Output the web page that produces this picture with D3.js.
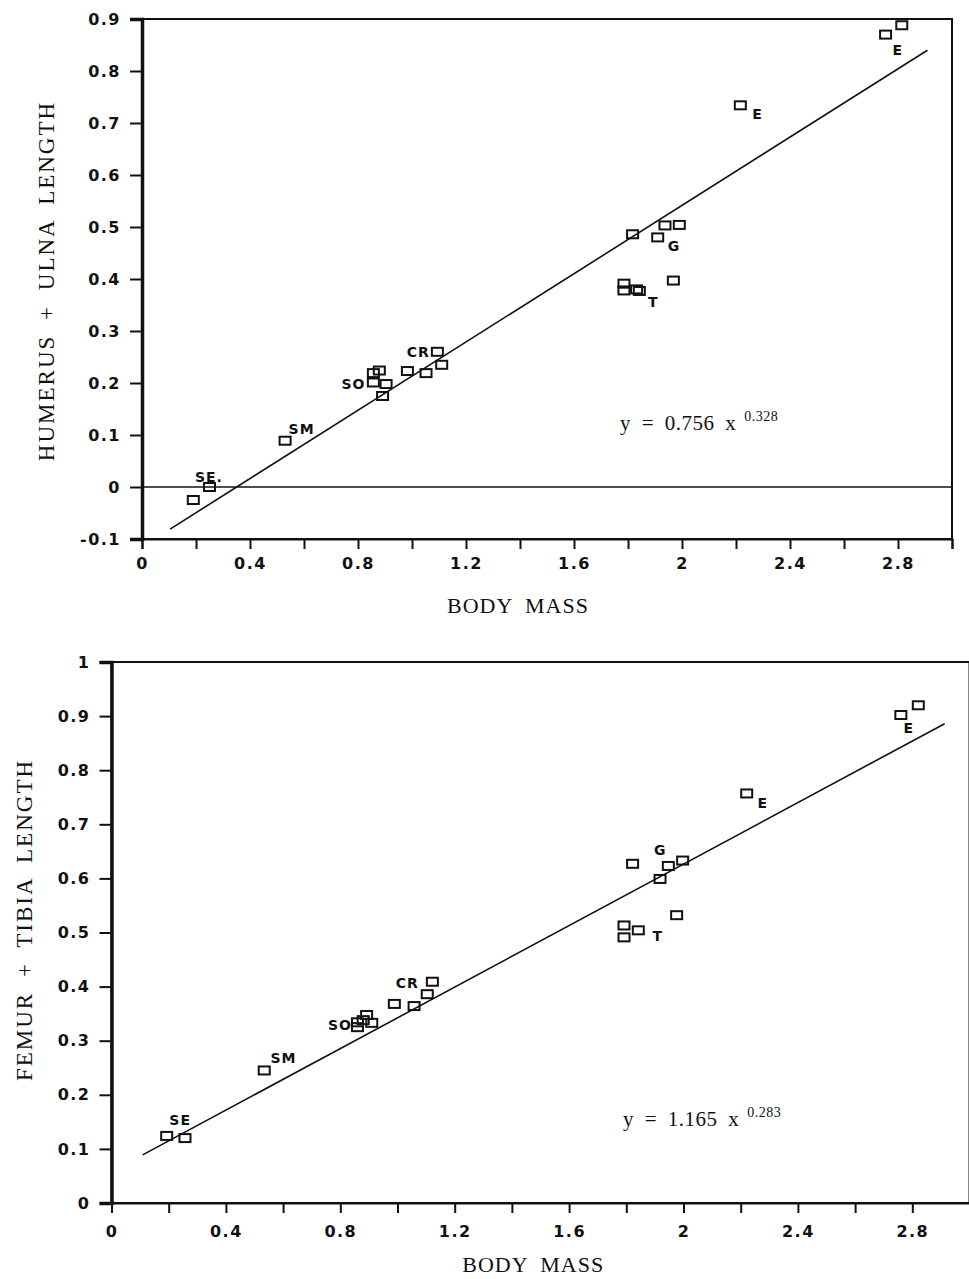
<!DOCTYPE html>
<html>
<head>
<meta charset="utf-8">
<script src="https://cdn.jsdelivr.net/npm/d3@7"></script>
<style>
  html, body { margin: 0; padding: 0; background: #fff; }
  svg { display: block; }
</style>
</head>
<body>
<svg id="chart" width="969" height="1279"></svg>
<script>
// ---------- shared x axis (log body mass) ----------
const xTickValues = [0, 0.2, 0.4, 0.6, 0.8, 1.0, 1.2, 1.4, 1.6, 1.8, 2.0, 2.2, 2.4, 2.6, 2.8, 3.0];
const xTickLabels = ["0", "", "0.4", "", "0.8", "", "1.2", "", "1.6", "", "2", "", "2.4", "", "2.8", ""];
const xTitle = "BODY MASS";

// ---------- panel 1: humerus + ulna ----------
const humerusYTicks = [-0.1, 0, 0.1, 0.2, 0.3, 0.4, 0.5, 0.6, 0.7, 0.8, 0.9];
const humerusYTickLabels = ["-0.1", "0", "0.1", "0.2", "0.3", "0.4", "0.5", "0.6", "0.7", "0.8", "0.9"];
const humerusX = [0.19, 0.25, 0.53, 0.857, 0.857, 0.879, 0.904, 0.891, 0.983, 1.052, 1.094, 1.110,
                  1.817, 1.910, 1.937, 1.990, 1.968, 1.785, 1.785, 1.832, 1.842, 2.216, 2.754, 2.814];
const humerusY = [-0.025, 0.0, 0.089, 0.219, 0.201, 0.224, 0.198, 0.175, 0.223, 0.219, 0.260, 0.235,
                  0.486, 0.480, 0.503, 0.504, 0.397, 0.391, 0.378, 0.380, 0.377, 0.734, 0.870, 0.888];
const humerusLabels = ["SE.", "SM", "SO", "CR", "G", "T", "E", "E"];
const humerusLabelX = [0.248, 0.591, 0.783, 1.023, 1.970, 1.894, 2.280, 2.799];
const humerusLabelY = [0.019, 0.1115, 0.198, 0.260, 0.463, 0.355, 0.717, 0.840];
const humerusFitX = [0.104, 2.909];
const humerusFitY = [-0.081, 0.840];
const humerusTitle = "HUMERUS + ULNA LENGTH";
const humerusEq = "y = 0.756 x";
const humerusExp = "0.328";

// ---------- panel 2: femur + tibia ----------
const femurYTicks = [0, 0.1, 0.2, 0.3, 0.4, 0.5, 0.6, 0.7, 0.8, 0.9, 1.0];
const femurYTickLabels = ["0", "0.1", "0.2", "0.3", "0.4", "0.5", "0.6", "0.7", "0.8", "0.9", "1"];
const femurX = [0.193, 0.257, 0.534, 0.860, 0.860, 0.892, 0.880, 0.910, 0.989, 1.058, 1.122, 1.104,
                1.822, 1.947, 1.918, 1.997, 1.976, 1.792, 1.792, 1.842, 2.221, 2.760, 2.821];
const femurY = [0.124, 0.120, 0.245, 0.325, 0.334, 0.3475, 0.338, 0.333, 0.368, 0.364, 0.409, 0.386,
                0.627, 0.623, 0.599, 0.633, 0.532, 0.513, 0.491, 0.504, 0.757, 0.902, 0.920];
const femurLabels = ["SE", "SM", "SO", "CR", "G", "T", "E", "E"];
const femurLabelX = [0.240, 0.601, 0.799, 1.034, 1.919, 1.910, 2.277, 2.788];
const femurLabelY = [0.154, 0.269, 0.329, 0.407, 0.652, 0.493, 0.739, 0.878];
const femurFitX = [0.109, 2.913];
const femurFitY = [0.089, 0.886];
const femurTitle = "FEMUR + TIBIA LENGTH";
const femurEq = "y = 1.165 x";
const femurExp = "0.283";

const svg = d3.select("#chart");
svg.append("rect").attr("width", 969).attr("height", 1279).attr("fill", "#fff");

const tickFont = "'DejaVu Sans', Verdana, sans-serif";
const serif = "'Liberation Serif', 'Times New Roman', serif";

function panel(cfg) {
  const x = d3.scaleLinear().domain([0, 3]).range(cfg.xr);
  const y = d3.scaleLinear().domain(cfg.yd).range(cfg.yr);
  const g = svg.append("g");

  // frame
  g.append("rect")
    .attr("x", cfg.xr[0]).attr("y", cfg.yr[1])
    .attr("width", cfg.xr[1] - cfg.xr[0]).attr("height", cfg.yr[0] - cfg.yr[1])
    .attr("fill", "none").attr("stroke", "#111").attr("stroke-width", 2);

  // y axis
  const yAxis = d3.axisLeft(y).tickValues(cfg.yTicks)
    .tickFormat((d, i) => cfg.yTickLabels[i]).tickSize(12).tickPadding(9);
  const ya = g.append("g").attr("transform", `translate(${cfg.xr[0]},0)`).call(yAxis);
  ya.select(".domain").attr("stroke", "#111").attr("stroke-width", 3.5);
  ya.selectAll(".tick line").attr("stroke", "#111").attr("stroke-width", 2);
  ya.selectAll(".tick text")
    .attr("font-family", tickFont).attr("font-weight", "900").attr("font-size", 16)
    .attr("letter-spacing", "1.5px").attr("fill", "#111");

  // x axis
  const xAxis = d3.axisBottom(x).tickValues(xTickValues)
    .tickFormat((d, i) => xTickLabels[i]).tickSize(10).tickPadding(cfg.xPad);
  const xa = g.append("g").attr("transform", `translate(0,${cfg.yr[0]})`).call(xAxis);
  xa.select(".domain").attr("stroke", "#111").attr("stroke-width", 2);
  xa.selectAll(".tick line").attr("stroke", "#111").attr("stroke-width", 2);
  xa.selectAll(".tick text")
    .attr("font-family", tickFont).attr("font-weight", "900").attr("font-size", 16)
    .attr("letter-spacing", "1.5px").attr("fill", "#111");

  // zero reference line
  if (cfg.zeroLine) {
    g.append("line")
      .attr("x1", cfg.xr[0]).attr("x2", cfg.xr[1])
      .attr("y1", y(0)).attr("y2", y(0))
      .attr("stroke", "#111").attr("stroke-width", 1.5);
  }

  // regression line
  g.append("line")
    .attr("x1", x(cfg.fitX[0])).attr("y1", y(cfg.fitY[0]))
    .attr("x2", x(cfg.fitX[1])).attr("y2", y(cfg.fitY[1]))
    .attr("stroke", "#111").attr("stroke-width", 1.6);

  // points (open squares)
  const pts = cfg.px.map((v, i) => ({ x: v, y: cfg.py[i] }));
  g.append("g").selectAll("rect").data(pts).join("rect")
    .attr("x", d => x(d.x) - 5.5).attr("y", d => y(d.y) - 4)
    .attr("width", 11).attr("height", 8)
    .attr("fill", "none").attr("stroke", "#111").attr("stroke-width", 2);

  // point labels
  const labs = cfg.labels.map((t, i) => ({ t, x: cfg.lx[i], y: cfg.ly[i] }));
  g.append("g").selectAll("text").data(labs).join("text")
    .attr("x", d => x(d.x)).attr("y", d => y(d.y))
    .attr("dy", "0.36em").attr("text-anchor", "middle")
    .attr("font-family", tickFont).attr("font-weight", "bold").attr("font-size", 14)
    .attr("letter-spacing", "1px").attr("fill", "#111")
    .text(d => d.t);

  // equation
  const eq = g.append("text")
    .attr("x", cfg.eqPos[0]).attr("y", cfg.eqPos[1])
    .attr("font-family", serif).attr("font-size", 21).attr("fill", "#111")
    .attr("word-spacing", "5px").attr("letter-spacing", "0.5px");
  eq.append("tspan").text(cfg.eq);
  eq.append("tspan").attr("dx", 8).attr("dy", -9).attr("font-size", 14).text(cfg.exp);

  // axis titles
  g.append("text")
    .attr("x", (cfg.xr[0] + 952) / 2 + cfg.xTitleShift).attr("y", cfg.xTitleY)
    .attr("text-anchor", "middle").attr("font-family", serif).attr("font-size", 22)
    .attr("letter-spacing", "1px").attr("word-spacing", "6px").attr("fill", "#111")
    .text(xTitle);
  g.append("text")
    .attr("transform", `translate(${cfg.yTitlePos[0]},${cfg.yTitlePos[1]}) rotate(-90)`)
    .attr("text-anchor", "middle").attr("font-family", serif).attr("font-size", 23)
    .attr("letter-spacing", "2px").attr("word-spacing", "7px").attr("fill", "#111")
    .text(cfg.title);
}

panel({
  xr: [142, 952], yr: [539, 19], yd: [-0.1, 0.9],
  yTicks: humerusYTicks, yTickLabels: humerusYTickLabels, xPad: 9,
  zeroLine: true, fitX: humerusFitX, fitY: humerusFitY,
  px: humerusX, py: humerusY,
  labels: humerusLabels, lx: humerusLabelX, ly: humerusLabelY,
  eq: humerusEq, exp: humerusExp, eqPos: [620, 430],
  title: humerusTitle, yTitlePos: [54, 281],
  xTitleY: 613, xTitleShift: -29
});

panel({
  xr: [111.5, 969.5], yr: [1203, 662], yd: [0, 1],
  yTicks: femurYTicks, yTickLabels: femurYTickLabels, xPad: 13,
  zeroLine: false, fitX: femurFitX, fitY: femurFitY,
  px: femurX, py: femurY,
  labels: femurLabels, lx: femurLabelX, ly: femurLabelY,
  eq: femurEq, exp: femurExp, eqPos: [623, 1126],
  title: femurTitle, yTitlePos: [32, 920],
  xTitleY: 1272, xTitleShift: 1.5
});
</script>
</body>
</html>
